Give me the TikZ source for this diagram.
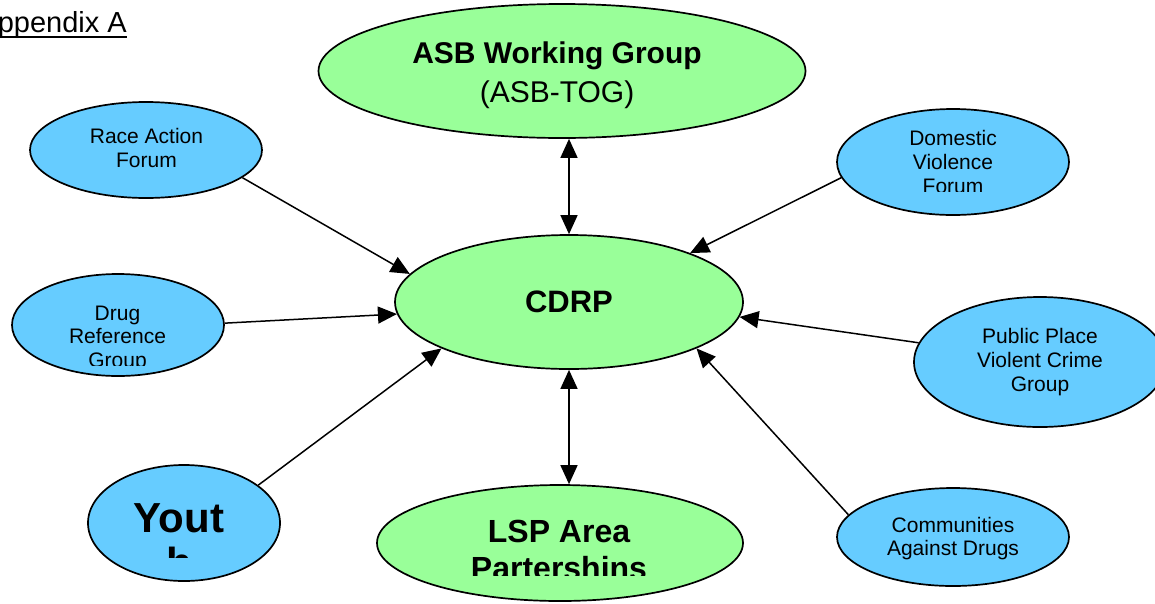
\documentclass[tikz,border=0pt]{standalone}
\usepackage{fontspec}
\setmainfont{Liberation Sans}
\usetikzlibrary{shapes.geometric,arrows.meta}
\definecolor{ellgreen}{HTML}{99FF99}
\definecolor{ellblue}{HTML}{66CCFF}
\begin{document}
\begin{tikzpicture}[x=1pt,y=-1pt,
  ell/.style={ellipse, draw=black, line width=1.7pt, inner sep=0pt},
  grn/.style={ell, fill=ellgreen},
  blu/.style={ell, fill=ellblue},
  smalltxt/.style={font=\fontsize{21}{24}\selectfont, align=center, anchor=base, inner sep=0pt},
  bigtxt/.style={font=\bfseries\fontsize{31}{38}\selectfont, align=center, anchor=base, inner sep=0pt},
  conn/.style={line width=1.5pt, -{Triangle[length=19pt,width=17pt]}},
  both/.style={line width=1.5pt, {Triangle[length=19pt,width=17pt]}-{Triangle[length=19pt,width=17pt]}}
]
\useasboundingbox (0,0) rectangle (1155,603);

% title
\node[font=\fontsize{29}{34}\selectfont, anchor=base east, inner sep=0pt] (title) at (127,32) {Appendix A};
\draw[line width=1.8pt] ([yshift=-5pt]title.base west) -- ([yshift=-5pt]title.base east);

% ellipses
\node[grn, minimum width=487pt, minimum height=134pt] (asb) at (562,71) {};
\node[grn, minimum width=348pt, minimum height=134pt] (cdrp) at (569,302) {};
\node[grn, minimum width=366pt, minimum height=116pt] (lsp) at (560,543) {};
\node[blu, minimum width=232pt, minimum height=96pt] (race) at (146,150) {};
\node[blu, minimum width=232pt, minimum height=106pt] (dom) at (953,162) {};
\node[blu, minimum width=212pt, minimum height=102pt] (drug) at (118,325) {};
\node[blu, minimum width=252pt, minimum height=130pt] (pub) at (1040,362) {};
\node[blu, minimum width=192pt, minimum height=116pt] (youth) at (184,523) {};
\node[blu, minimum width=232pt, minimum height=98pt] (comm) at (953,537) {};

% texts (anchor=base is the baseline of the last line)
\node[bigtxt, font=\fontsize{30}{39}\selectfont] (asbt) at (557,102) {\textbf{ASB Working Group}\\(ASB-TOG)};
\node[bigtxt, font=\bfseries\fontsize{31}{38}\selectfont] (cdrpt) at (569,312) {CDRP};
\begin{scope}
  \clip (380,480) rectangle (745,575);
  \node[bigtxt, font=\bfseries\fontsize{32}{37}\selectfont] (lspt) at (559,579) {LSP Area\\Partershins};
\end{scope}
\node[smalltxt] (racet) at (146.5,167) {Race Action\\Forum};
\begin{scope}
  \clip (840,100) rectangle (1070,191);
  \node[smalltxt] (domt) at (953,193) {Domestic\\Violence\\Forum};
\end{scope}
\begin{scope}
  \clip (14,280) rectangle (222,365);
  \node[smalltxt, font=\fontsize{21}{23.5}\selectfont] (drugt) at (117.5,367) {Drug\\Reference\\Group};
\end{scope}
\node[smalltxt] (pubt) at (1040,391) {Public Place\\Violent Crime\\Group};
\node[smalltxt, font=\fontsize{21}{23}\selectfont] (commt) at (953,555) {Communities\\Against Drugs};
\begin{scope}
  \clip (90,470) rectangle (278,557);
  \node[bigtxt, font=\bfseries\fontsize{42}{45}\selectfont] (youtht) at (179,577) {Yout\\h};
\end{scope}

% connectors
\draw[conn] (race.-16) -- (cdrp.170);
\draw[conn] (dom.188) -- (cdrp.22);
\draw[conn] (drug.1) -- (cdrp.184);
\draw[conn] (pub.171) -- (cdrp.-5);
\draw[conn] (youth.27) -- (cdrp.200);
\draw[conn] (comm.168) -- (cdrp.-20);
\draw[both] (asb.south -| cdrp.north) -- (cdrp.north);
\draw[both] (cdrp.south) -- (cdrp.south |- lsp.north);
\end{tikzpicture}
\end{document}
